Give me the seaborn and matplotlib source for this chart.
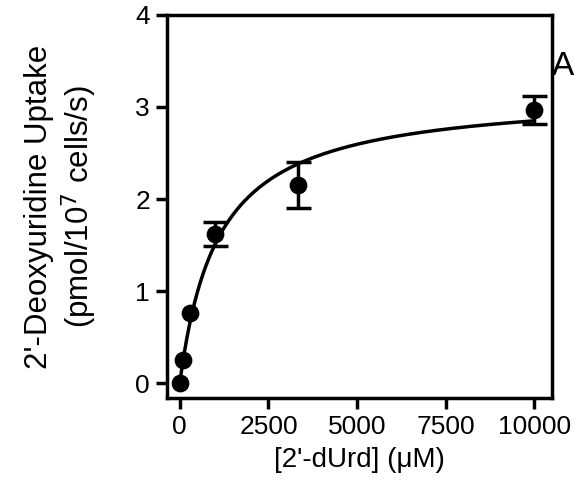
import numpy as np
import matplotlib.pyplot as plt
import seaborn as sns

sns.set_theme(style="ticks")
plt.rcParams['font.family'] = ['Liberation Sans', 'DejaVu Sans']
plt.rcParams['text.color'] = 'black'
plt.rcParams['axes.labelcolor'] = 'black'
plt.rcParams['xtick.color'] = 'black'
plt.rcParams['ytick.color'] = 'black'
plt.rcParams['axes.edgecolor'] = 'black'

conc = [0, 100, 300, 1000, 3333, 10000]
uptake = [0.0, 0.25, 0.76, 1.62, 2.15, 2.97]
err = [0.0, 0.0, 0.0, 0.13, 0.25, 0.15]
vmax, km = 3.16, 1090.0  # fitted Michaelis-Menten parameters

fig = plt.figure(figsize=(5.77, 4.95), dpi=100)
ax = fig.add_axes([0.289, 0.196, 0.668, 0.774])

s = np.linspace(0, 10000, 400)
sns.lineplot(x=s, y=vmax * s / (km + s), color="black", lw=2.5, ax=ax)
eb = [(c, u, e) for c, u, e in zip(conc, uptake, err) if e > 0]
ax.errorbar([p[0] for p in eb], [p[1] for p in eb], yerr=[p[2] for p in eb],
            fmt="none", ecolor="black", elinewidth=2.5, capsize=9, capthick=2.5)
sns.scatterplot(x=conc, y=uptake, color="black", s=140, edgecolor="black", ax=ax, zorder=3)

ax.set_xlim(-367, 10500)
ax.set_ylim(-0.16, 4)
ax.set_xticks([0, 2500, 5000, 7500, 10000])
ax.set_yticks([0, 1, 2, 3, 4])
for sp in ax.spines.values():
    sp.set_linewidth(2.5)
ax.tick_params(width=2.5, length=8, labelsize=19, direction="out", pad=4)
ax.set_xlabel("[2'-dUrd] (\u03bcM)", fontsize=20, labelpad=6)
ax.set_ylabel("2'-Deoxyuridine Uptake\n(pmol/10$^7$ cells/s)", fontsize=22.5, labelpad=26)
fig.text(0.957, 0.848, "A", fontsize=24)
fig.savefig("out.png", dpi=100)
